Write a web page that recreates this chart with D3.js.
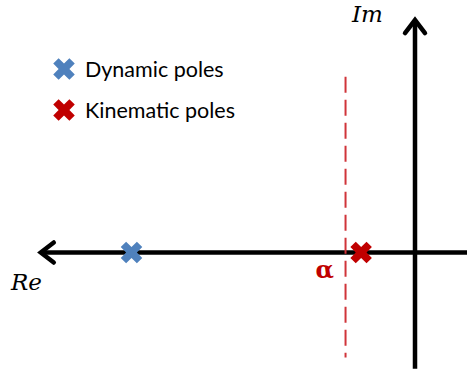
<!DOCTYPE html>
<html>
<head>
<meta charset="utf-8">
<script src="https://cdn.jsdelivr.net/npm/d3@7"></script>
<style>
  html, body { margin: 0; padding: 0; background: #fff; }
  svg { display: block; }
</style>
</head>
<body>
<svg id="chart" width="467" height="372"></svg>
<script>
// Pole locations on the real axis (imaginary part 0)
const dynamicPoles = [-10];
const kinematicPoles = [-1.9];
// Stability margin boundary Re = alpha
const alphaValue = -2.45;
const alphaSpan = [-3.7, 6.2];
// Extents of the drawn axes
const reExtent = [-13.2, 1.9];
const imExtent = [-4.1, 8.2];
// Legend entries
const legendLabels = ["Dynamic poles", "Kinematic poles"];
const legendColors = ["#4f81bd", "#c00000"];

const W = 467, H = 372;
const svg = d3.select("#chart");

const unit = 28.35;
const x = d3.scaleLinear().domain([0, 1]).range([415, 415 + unit]);
const y = d3.scaleLinear().domain([0, 1]).range([252.5, 252.5 - unit]);

const axisColor = "#000";
const axisW = 4.5;

// Real axis with arrow pointing left
svg.append("line")
  .attr("x1", x(reExtent[0]) + 2).attr("x2", x(reExtent[1]) + 20)
  .attr("y1", y(0)).attr("y2", y(0))
  .attr("stroke", axisColor).attr("stroke-width", axisW);
const reTip = [x(reExtent[0]), y(0)];
svg.append("path")
  .attr("d", d3.line()([[reTip[0] + 13, reTip[1] - 10], reTip, [reTip[0] + 13, reTip[1] + 10]]))
  .attr("fill", "none").attr("stroke", axisColor).attr("stroke-width", axisW)
  .attr("stroke-linecap", "round").attr("stroke-linejoin", "miter");

// Imaginary axis with arrow pointing up
svg.append("line")
  .attr("x1", x(0)).attr("x2", x(0))
  .attr("y1", y(imExtent[0])).attr("y2", y(imExtent[1]) + 2)
  .attr("stroke", axisColor).attr("stroke-width", axisW);
const imTip = [x(0), y(imExtent[1])];
svg.append("path")
  .attr("d", d3.line()([[imTip[0] - 10, imTip[1] + 13], imTip, [imTip[0] + 10, imTip[1] + 13]]))
  .attr("fill", "none").attr("stroke", axisColor).attr("stroke-width", axisW)
  .attr("stroke-linecap", "round").attr("stroke-linejoin", "miter");

// Dashed alpha boundary
svg.append("line")
  .attr("x1", x(alphaValue)).attr("x2", x(alphaValue))
  .attr("y1", y(alphaSpan[1])).attr("y2", y(alphaSpan[0]))
  .attr("stroke", "#d0343a").attr("stroke-width", 2)
  .attr("stroke-dasharray", "16,7");

// Pole markers
const xMark = d3.symbol().type(d3.symbolCross).size(290);
function drawPoles(values, color) {
  svg.selectAll(null).data(values).enter().append("path")
    .attr("d", xMark)
    .attr("transform", d => `translate(${x(d)},${y(0)}) rotate(45)`)
    .attr("fill", color);
}
drawPoles(dynamicPoles, legendColors[0]);
drawPoles(kinematicPoles, legendColors[1]);

// Axis labels
const mathFont = "'DejaVu Serif', serif";
svg.append("text").attr("x", 11).attr("y", 290)
  .attr("font-family", mathFont).attr("font-style", "italic").attr("font-size", 23)
  .attr("fill", "#000").text("Re");
svg.append("text").attr("x", 352).attr("y", 22)
  .attr("font-family", mathFont).attr("font-style", "italic").attr("font-size", 23)
  .attr("fill", "#000").text("Im");
svg.append("text").attr("x", x(alphaValue) - 30).attr("y", 278)
  .attr("font-family", mathFont).attr("font-weight", "bold").attr("font-size", 24)
  .attr("fill", "#c00000").text("α");

// Legend
const legend = svg.append("g");
legendLabels.forEach((label, i) => {
  const ly = 69 + i * 41;
  legend.append("path").attr("d", xMark)
    .attr("transform", `translate(64,${ly}) rotate(45)`)
    .attr("fill", legendColors[i]);
  legend.append("text").attr("x", 85).attr("y", ly + 7.5)
    .attr("font-family", "Lato, sans-serif").attr("font-size", 21.5)
    .attr("fill", "#000").text(label);
});
</script>
</body>
</html>
